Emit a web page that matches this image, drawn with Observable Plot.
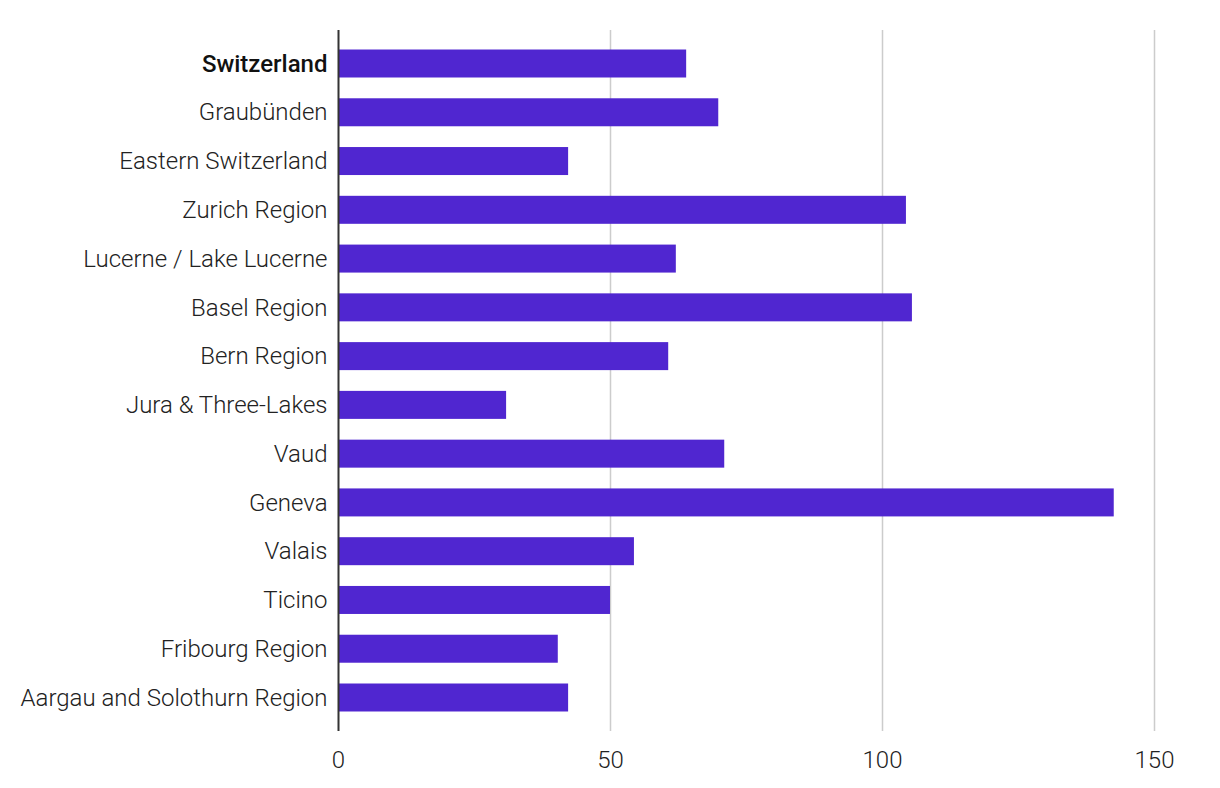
<!DOCTYPE html>
<html>
<head>
<meta charset="utf-8">
<script src="https://cdn.jsdelivr.net/npm/d3@7"></script>
<script src="https://cdn.jsdelivr.net/npm/@observablehq/plot@0.6"></script>
<style>
  html, body { margin: 0; padding: 0; background: #fff; }
  #chart svg { display: block; }
</style>
</head>
<body>
<div id="chart"></div>
<script>
const regions = [
  "Switzerland", "Graubünden", "Eastern Switzerland", "Zurich Region",
  "Lucerne / Lake Lucerne", "Basel Region", "Bern Region", "Jura & Three-Lakes",
  "Vaud", "Geneva", "Valais", "Ticino", "Fribourg Region", "Aargau and Solothurn Region"
];
const values = [64.0, 69.9, 42.3, 104.4, 62.1, 105.5, 60.7, 30.9, 71.0, 142.6, 54.4, 50.0, 40.4, 42.3];
const xTicks = [0, 50, 100, 150];
const gridTicks = [50, 100, 150];
const highlight = ["Switzerland"];

const data = regions.map((r, i) => ({region: r, value: values[i]}));

const lightFont = "'Roboto Light', Roboto, 'Noto Sans', sans-serif";
const boldFont = "Roboto, 'Noto Sans', sans-serif";

const chart = Plot.plot({
  width: 1220,
  height: 788,
  marginTop: 30,
  marginBottom: 57,
  marginLeft: 338,
  marginRight: 66,
  style: {fontFamily: lightFont, fontSize: "24px", color: "#222", background: "#fff"},
  x: {domain: [0, 150], ticks: xTicks, label: null, axis: null},
  y: {domain: regions, paddingInner: 0.426, paddingOuter: 0.4, round: false, label: null, axis: null},
  marks: [
    Plot.ruleX(gridTicks, {stroke: "#cccccc", strokeWidth: 1.5}),
    Plot.barX(data, {y: "region", x: "value", fill: "#5026D0"}),
    Plot.ruleX([0], {stroke: "#333333", strokeWidth: 2}),
    Plot.axisX({ticks: xTicks, tickSize: 0, tickPadding: 19, fontSize: 24, fontWeight: 300, fontFamily: lightFont, fill: "#222", label: null}),
    Plot.text(data.filter(d => !highlight.includes(d.region)), {
      y: "region", text: "region", x: 0, dx: -11, textAnchor: "end",
      fontSize: 24, fontWeight: 300, fontFamily: lightFont, fill: "#222"
    }),
    Plot.text(data.filter(d => highlight.includes(d.region)), {
      y: "region", text: "region", x: 0, dx: -11, textAnchor: "end",
      fontSize: 24, fontWeight: 500, fontFamily: boldFont, fill: "#111"
    })
  ]
});
document.getElementById("chart").appendChild(chart);
</script>
</body>
</html>
